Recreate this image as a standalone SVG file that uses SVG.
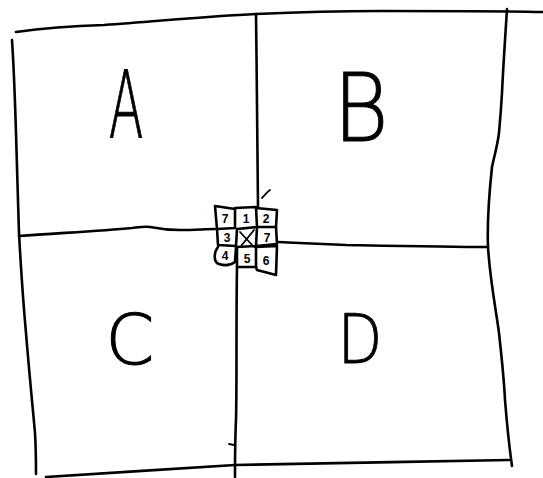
<svg xmlns="http://www.w3.org/2000/svg" width="543" height="478" viewBox="0 0 543 478">
<style>
.ln{fill:none;stroke:#000;stroke-width:2.6;stroke-linecap:round;stroke-linejoin:round}
.th{fill:none;stroke:#000;stroke-width:1.8;stroke-linecap:round;stroke-linejoin:round}
.big{font-family:"DejaVu Sans","Liberation Sans",sans-serif;font-weight:200;fill:#000;stroke:#000;stroke-width:1;text-anchor:middle}
.sm{font-family:"Liberation Sans",sans-serif;font-weight:bold;font-size:12px;fill:#000;text-anchor:middle}
</style>
<rect width="543" height="478" fill="#fff"/>
<g id="frame">
<path class="ln" d="M16,32 C45,28 75,26 104,25 C160,21 210,16 256,14 C300,12 340,11 381,11 C440,11 500,11 543,12"/>
<path class="ln" d="M12,40 C14,70 15,100 16,133 C17,170 18,200 19,233 C21,270 23,300 26,333 C29,370 32,400 35,433 C36,450 36,462 36,474"/>
<path class="ln" d="M507,9 C505,40 503,70 502,93 C501,110 500,122 499,133 C497,148 494,157 492,167 C489,195 487,220 488,247 C490,280 496,310 499,333 C502,360 504,380 505,400 C507,425 509,445 512,466"/>
<path class="ln" d="M46,477 C100,474 180,468 235,465 C320,463 420,462 509,460"/>
</g>
<g id="dividers">
<path class="ln" d="M256,14 C257,80 257,150 258,207"/>
<path class="ln" d="M237,267 C236,330 237,380 236,420 C235,440 235,460 235,477"/>
<path class="ln" d="M19,236 C60,233 100,231 132,228 C140,227 145,226 150,227 C160,229 170,230 180,230 C195,230 205,229 215,229"/>
<path class="ln" d="M279,242 C300,243 320,244 346,245 C400,246 450,247 488,247"/>
<path class="th" d="M229,444 L234,445"/>
<path class="th" d="M262,198 C265,195 267,192 270,190"/>
</g>
<g id="quadrant-A"><text class="big" transform="translate(126,137) scale(0.55,1)" font-size="92">A</text></g>
<g id="quadrant-B"><text class="big" transform="translate(361,141) scale(0.9,1)" font-size="94">B</text></g>
<g id="quadrant-C"><text class="big" transform="translate(130,364)" font-size="70">C</text></g>
<g id="quadrant-D"><text class="big" transform="translate(360,363) scale(0.85,1)" font-size="68">D</text></g>
<g id="grid">
<path class="ln" d="M215,206 L235,209 L235,228 L217,229 Z"/>
<path class="ln" d="M235,208 L256,207 L257,227 L237,229"/>
<path class="ln" d="M256,208 L277,210 L276,227 L257,227"/>
<path class="ln" d="M217,229 L218,245 L236,246 L237,229"/>
<path class="ln" d="M257,227 L256,246 L237,247"/>
<path class="ln" d="M276,227 L277,244 L256,246"/>
<path class="ln" d="M218,247 C214,252 213,262 219,264 C225,266 231,265 235,262 L236,247"/>
<path class="ln" d="M237,247 L237,267 L256,267 L256,247"/>
<path class="ln" d="M256,247 L277,246 L276,275 L257,270 L256,267"/>
<path class="th" d="M240,232 L254,247 M254,230 L241,246"/>
<text class="sm" x="225" y="223">7</text>
<text class="sm" x="246" y="223">1</text>
<text class="sm" x="266" y="223">2</text>
<text class="sm" x="227" y="242">3</text>
<text class="sm" x="267" y="242">7</text>
<text class="sm" x="225" y="260">4</text>
<text class="sm" x="247" y="263">5</text>
<text class="sm" x="266" y="265">6</text>
</g>
</svg>
